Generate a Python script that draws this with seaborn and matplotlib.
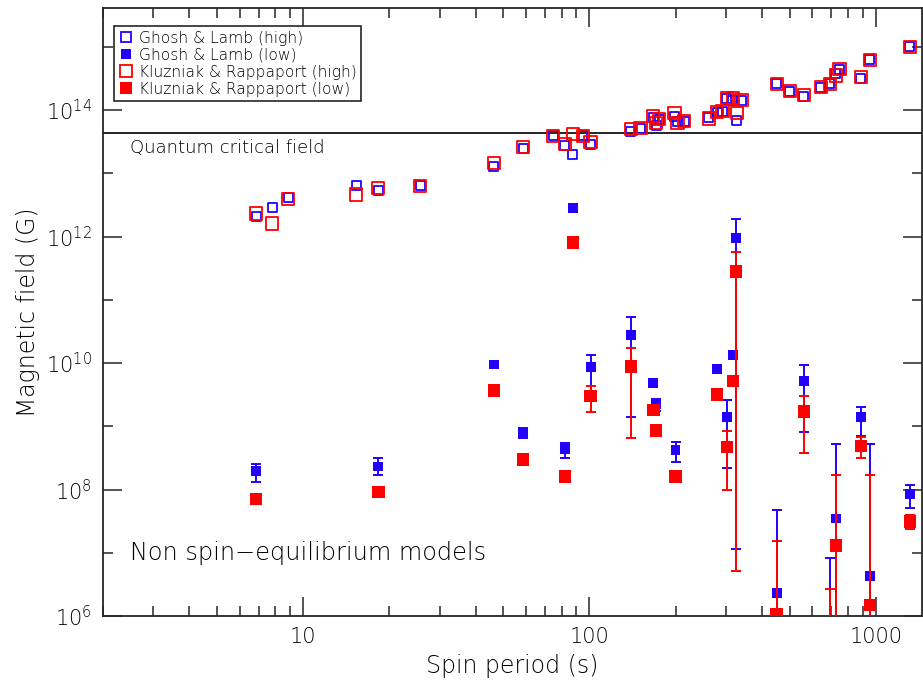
import numpy as np
import pandas as pd
import matplotlib
matplotlib.use("Agg")
import matplotlib.pyplot as plt
import matplotlib.ticker as mticker
from matplotlib.lines import Line2D
import seaborn as sns

# ---------------------------------------------------------------
# Spin-equilibrium field estimates (open squares)
# ---------------------------------------------------------------
period_high = [6.85, 7.80, 8.87, 15.3, 18.3, 25.6, 46.4, 58.6, 74.6, 82.1,
               87.5, 94.8, 101, 139.6, 151, 167, 171, 175, 198, 203,
               214, 261, 279, 292, 302, 317, 327, 340, 451, 501,
               561, 643, 691, 725, 748, 887, 953, 1315]
b_ghosh_high = [2.1e12, 2.9e12, 4.1e12, 6.3e12, 5.4e12, 6.3e12, 1.26e13, 2.5e13, 3.9e13, 2.8e13,
                2.0e13, 3.9e13, 2.9e13, 4.5e13, 5.2e13, 7.5e13, 5.8e13, 7.2e13, 8.0e13, 6.5e13,
                6.7e13, 7.5e13, 9.0e13, 9.6e13, 1.5e14, 1.44e14, 6.9e13, 1.44e14, 2.6e14, 2.0e14,
                1.66e14, 2.3e14, 2.6e14, 3.8e14, 4.3e14, 3.2e14, 6.2e14, 1.0e15]
b_kr_high = [2.3e12, 1.6e12, 3.9e12, 4.6e12, 5.9e12, 6.3e12, 1.45e13, 2.6e13, 3.9e13, 2.9e13,
             4.2e13, 3.9e13, 3.1e13, 5.0e13, 5.2e13, 8.1e13, 6.2e13, 7.2e13, 8.9e13, 6.2e13,
             6.7e13, 7.4e13, 9.3e13, 9.6e13, 1.55e14, 1.55e14, 8.9e13, 1.44e14, 2.6e14, 2.0e14,
             1.74e14, 2.3e14, 2.6e14, 3.5e14, 4.5e14, 3.3e14, 6.2e14, 1.0e15]

# ---------------------------------------------------------------
# Non spin-equilibrium field estimates (filled squares with ranges)
# ---------------------------------------------------------------
period_low = [6.85, 18.3, 46.4, 58.6, 82.1, 87.5, 101, 139.6, 167, 171,
              200, 279, 302, 317, 325, 451, 561, 691, 725, 887, 953, 1315]
b_ghosh_low = [1.95e8, 2.3e8, 9.5e9, 7.8e8, 4.4e8, 2.8e12, 8.7e9, 2.75e10, 4.8e9, 2.2e9,
               4.2e8, 8.1e9, 1.4e9, 1.35e10, 9.5e11, 2.3e6, 5.2e9, 1.0e5, 3.5e7, 1.4e9,
               4.3e6, 8.5e7]
ghosh_low_min = [1.32e8, 1.7e8, 8.5e9, 6.5e8, 3.2e8, 2.6e12, 3.5e9, 1.4e9, 4.3e9, 1.75e9,
                 2.7e8, 7.2e9, 2.2e8, 1.2e10, 1.15e7, 1.0e4, 8.1e8, 1.0e4, 1.0e4, 7.1e8,
                 1.0e4, 5.1e7]
ghosh_low_max = [2.5e8, 3.2e8, 1.07e10, 9.3e8, 5.5e8, 3.0e12, 1.35e10, 5.4e10, 5.4e9, 2.7e9,
                 5.6e8, 9.1e9, 2.6e9, 1.5e10, 1.9e12, 4.8e7, 9.3e9, 8.3e6, 5.2e8, 2.0e9,
                 5.2e8, 1.17e8]
b_kr_low = [7.1e7, 9.1e7, 3.7e9, 3.0e8, 1.6e8, 8.1e11, 3.0e9, 8.9e9, 1.8e9, 8.5e8,
            1.6e8, 3.2e9, 4.7e8, 5.2e9, 2.8e11, 1.05e6, 1.7e9, 1.0e5, 1.3e7, 4.9e8,
            1.5e6, 3.1e7]
kr_low_min = [7.1e7, 9.1e7, 3.7e9, 3.0e8, 1.6e8, 8.1e11, 1.7e9, 6.5e8, 1.8e9, 8.5e8,
              1.6e8, 3.2e9, 1.0e8, 5.2e9, 5.1e6, 1.0e4, 3.8e8, 1.0e4, 1.0e4, 3.2e8,
              1.0e4, 2.4e7]
kr_low_max = [7.1e7, 9.1e7, 3.7e9, 3.0e8, 1.6e8, 8.1e11, 4.4e9, 1.74e10, 1.8e9, 8.5e8,
              1.6e8, 3.2e9, 8.3e8, 5.2e9, 5.6e11, 1.55e7, 3.0e9, 2.7e6, 1.7e8, 6.8e8,
              1.7e8, 4.0e7]

QUANTUM_CRITICAL_FIELD = 4.414e13  # G

BLUE = "#2200ff"
RED = "#ff0000"
INK = "#000000"
FRAME = "#262626"

sns.set_style("ticks")
plt.rcParams["font.family"] = ["DejaVu Sans"]
plt.rcParams["font.weight"] = "light"
plt.rcParams["mathtext.fontset"] = "custom"
plt.rcParams["mathtext.rm"] = "DejaVu Sans:light"
plt.rcParams["mathtext.it"] = "DejaVu Sans:light"
plt.rcParams["text.color"] = INK
plt.rcParams["axes.labelcolor"] = INK
plt.rcParams["axes.labelweight"] = "light"

high = pd.DataFrame({"period": period_high, "ghosh": b_ghosh_high, "kr": b_kr_high})
low = pd.DataFrame({
    "period": period_low,
    "ghosh": b_ghosh_low, "ghosh_min": ghosh_low_min, "ghosh_max": ghosh_low_max,
    "kr": b_kr_low, "kr_min": kr_low_min, "kr_max": kr_low_max,
})

fig = plt.figure(figsize=(9.23, 6.87), dpi=100)
ax = fig.add_axes([0.1116, 0.1033, 0.8873, 0.885])
ax.set_xscale("log")
ax.set_yscale("log")

ax.axhline(QUANTUM_CRITICAL_FIELD, color="black", lw=1.2, zorder=1)

# Spin-equilibrium estimates: open squares
sns.scatterplot(data=high, x="period", y="ghosh", marker="s", s=42,
                facecolors="none", edgecolor=BLUE, linewidth=1.3, ax=ax, zorder=3)
sns.scatterplot(data=high, x="period", y="kr", marker="s", s=80,
                facecolors="none", edgecolor=RED, linewidth=1.3, ax=ax, zorder=4)

# Non spin-equilibrium estimates: filled squares with allowed ranges
for col, color, size, z in [("ghosh", BLUE, 48, 5), ("kr", RED, 82, 7)]:
    yerr = np.vstack([low[col] - low[col + "_min"], low[col + "_max"] - low[col]])
    ax.errorbar(low["period"], low[col], yerr=yerr, fmt="none", ecolor=color,
                elinewidth=1.4, capsize=3.8, capthick=1.4, zorder=z)
    sns.scatterplot(data=low, x="period", y=col, marker="s", s=size, color=color,
                    edgecolor="none", linewidth=0, ax=ax, zorder=z + 1)

ax.set_xlim(2.0, 1450)
ax.set_ylim(1e6, 4.1e15)

# Axis ticks: decades on both axes, labels only on even decades for the field
ax.xaxis.set_major_locator(mticker.LogLocator(base=10, numticks=10))
ax.xaxis.set_minor_locator(mticker.LogLocator(base=10, subs=np.arange(2, 10), numticks=20))
ax.xaxis.set_major_formatter(mticker.FuncFormatter(lambda v, p: f"{v:g}"))
ax.xaxis.set_minor_formatter(mticker.NullFormatter())

ymajor = [10.0 ** k for k in range(6, 16, 2)]
yminor = [10.0 ** k for k in range(7, 16, 2)]
ax.yaxis.set_major_locator(mticker.FixedLocator(ymajor))
ax.yaxis.set_minor_locator(mticker.FixedLocator(yminor))
ax.yaxis.set_major_formatter(mticker.FuncFormatter(
    lambda v, p: r"$\mathregular{10^{%d}}$" % round(np.log10(v))))
ax.yaxis.set_minor_formatter(mticker.NullFormatter())

ax.tick_params(which="both", direction="in", top=True, right=True,
               color=FRAME, labelcolor=INK, width=1.1)
ax.tick_params(which="major", length=14, labelsize=15, pad=8)
ax.tick_params(which="minor", length=7)
for sp in ax.spines.values():
    sp.set_color(FRAME)
    sp.set_linewidth(1.3)

ax.set_xlabel("Spin period (s)", fontsize=17, labelpad=5)
ax.set_ylabel("Magnetic field (G)", fontsize=17, labelpad=4)

ax.text(0.033, 0.770, "Quantum critical field", transform=ax.transAxes,
        fontsize=13, va="center", ha="left")
ax.text(0.033, 0.103, "Non spin\u2212equilibrium models", transform=ax.transAxes,
        fontsize=17.3, va="center", ha="left")

handles = [
    Line2D([], [], ls="none", marker="s", ms=6.5, mfc="none", mec=BLUE, mew=1.3),
    Line2D([], [], ls="none", marker="s", ms=6.5, mfc=BLUE, mec=BLUE, mew=0),
    Line2D([], [], ls="none", marker="s", ms=8.5, mfc="none", mec=RED, mew=1.3),
    Line2D([], [], ls="none", marker="s", ms=8.5, mfc=RED, mec=RED, mew=0),
]
labels = ["Ghosh & Lamb (high)", "Ghosh & Lamb (low)",
          "Kluzniak & Rappaport (high)", "Kluzniak & Rappaport (low)"]
leg = ax.legend(handles, labels, loc="upper left", bbox_to_anchor=(0.0134, 0.970),
                frameon=True, fancybox=False, edgecolor=FRAME, framealpha=1,
                fontsize=11.2, handletextpad=0.3, borderpad=0.3,
                labelspacing=0.12, handlelength=1.0, borderaxespad=0)
leg.get_frame().set_linewidth(1.2)

fig.savefig("out.png", dpi=100)
